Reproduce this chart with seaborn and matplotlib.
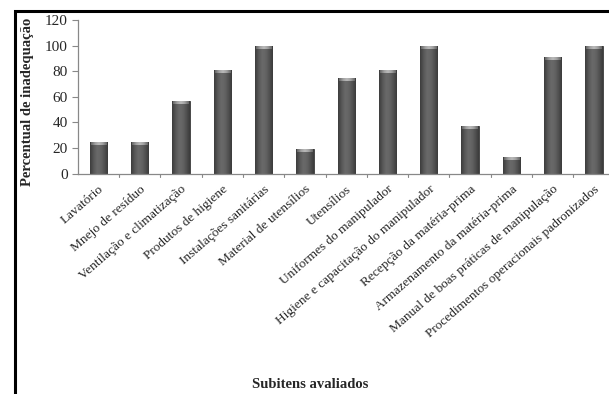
import numpy as np
import pandas as pd
import matplotlib
matplotlib.use("Agg")
import matplotlib.pyplot as plt
import seaborn as sns
from matplotlib.patches import Rectangle
from matplotlib.colors import LinearSegmentedColormap

categories = [
    "Lavatório",
    "Mnejo de resíduo",
    "Ventilação e climatização",
    "Produtos de higiene",
    "Instalações sanitárias",
    "Material de utensílios",
    "Utensílios",
    "Uniformes do manipulador",
    "Higiene e capacitação do manipulador",
    "Recepção da matéria-prima",
    "Armazenamento da matéria-prima",
    "Manual de boas práticas de manipulação",
    "Procedimentos operacionais padronizados",
]
values = [25, 25, 57, 81, 100, 19, 75, 81, 100, 37, 13, 91, 100]
y_ticks = [0, 20, 40, 60, 80, 100, 120]

df = pd.DataFrame({"subitem": categories, "percentual": values})

sns.set_theme(style="white")
plt.rcParams["font.family"] = ["Liberation Serif", "DejaVu Serif"]

W, H = 609, 394
fig = plt.figure(figsize=(W / 100, H / 100), dpi=100)
ax = fig.add_axes([77.7 / W, 1 - 173.5 / H, (614.7 - 77.7) / W, (173.5 - 20) / H])

sns.barplot(data=df, x="subitem", y="percentual", color="#5a5a5a",
            width=0.42, ax=ax, saturation=1, edgecolor="#3a3a3a", linewidth=0.6)

# cylinder-style shading on each bar
shade = LinearSegmentedColormap.from_list(
    "shade", ["#3c3c3c", "#575757", "#6a6a6a", "#646464", "#525252", "#3a3a3a"])
grad = np.linspace(0, 1, 64).reshape(1, -1)
cap_cmap = LinearSegmentedColormap.from_list(
    "cap", ["#6a6a6a", "#a8a8a8", "#c4c4c4", "#a8a8a8", "#6a6a6a"])
for bar in ax.patches:
    x0, y0 = bar.get_x(), bar.get_y()
    w, h = bar.get_width(), bar.get_height()
    z = bar.get_zorder()
    im = ax.imshow(grad, cmap=shade, aspect="auto", extent=[x0, x0 + w, y0, y0 + h],
                   zorder=z + 0.1, interpolation="bicubic")
    im.set_clip_path(bar)
    ax.imshow(grad, cmap=cap_cmap, aspect="auto",
              extent=[x0 + w * 0.06, x0 + w * 0.94, y0 + h - 2.4, y0 + h - 0.6],
              zorder=z + 0.2, interpolation="bicubic", alpha=0.9)

ax.set_xlim(-0.5, len(categories) - 0.5)
ax.set_ylim(0, 120)
ax.set_yticks(y_ticks)
ax.set_yticklabels([str(t) for t in y_ticks], fontsize=11)
ax.set_xticks(range(len(categories)))
ax.set_xticklabels(categories, rotation=41, ha="right", rotation_mode="anchor",
                   fontsize=9.6)
ax.tick_params(axis="x", length=0, pad=7)
ax.tick_params(axis="y", length=4, width=0.8, color="#888888", pad=3, left=True,
               direction="out")

# boundary ticks between categories on the x axis
for xb in np.arange(0.5, len(categories), 1.0):
    ax.plot([xb, xb], [0, -3], color="#888888", lw=0.8, clip_on=False, zorder=1)

for s in ["top", "right"]:
    ax.spines[s].set_visible(False)
for s in ["left", "bottom"]:
    ax.spines[s].set_color("#888888")
    ax.spines[s].set_linewidth(0.9)

ax.set_xlabel("")
ax.set_ylabel("")
fig.text(28 / W, 1 - 102 / H, "Percentual de inadequação", rotation=90,
         ha="center", va="center", fontsize=10.5, fontweight="bold")
fig.text(310 / W, 1 - 385 / H, "Subitens avaliados", ha="center", va="center",
         fontsize=10.5, fontweight="bold")

# outer frame
fig.patches.append(Rectangle((15 / W, -0.1), 1.2, 1 - 11 / H + 0.1,
                             transform=fig.transFigure, fill=False,
                             edgecolor="black", linewidth=2.2))

fig.savefig("out.png", dpi=100)
